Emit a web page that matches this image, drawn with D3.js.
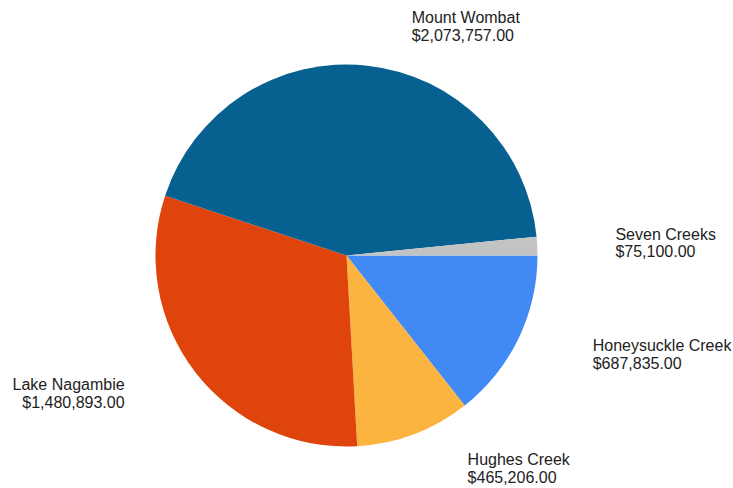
<!DOCTYPE html>
<html><head><meta charset="utf-8">
<script src="https://cdn.jsdelivr.net/npm/d3@7"></script>
<style>html,body{margin:0;padding:0;background:#fff;}svg{display:block;}</style>
</head><body>
<svg id="chart" width="733" height="488"></svg>
<script>
const categories = ["Honeysuckle Creek", "Hughes Creek", "Lake Nagambie", "Mount Wombat", "Seven Creeks"];
const values = [687835, 465206, 1480893, 2073757, 75100];
const colors = ["#4189f4", "#fbb440", "#e0440d", "#066190", "#c3c3c3"];

const W = 733, H = 488;
const cx = 346.5, cy = 255.5, r = 191;
const svg = d3.select("#chart");
const g = svg.append("g").attr("transform", `translate(${cx},${cy})`);

const data = categories.map((c, i) => ({name: c, value: values[i], color: colors[i]}));
const pie = d3.pie().value(d => d.value).sort(null)
  .startAngle(Math.PI / 2).endAngle(Math.PI / 2 + 2 * Math.PI);
const arcs = pie(data);
const arc = d3.arc().innerRadius(0).outerRadius(r);
const labelArc = d3.arc().innerRadius(r * 1.2).outerRadius(r * 1.2);

g.selectAll("path.slice").data(arcs).join("path")
  .attr("class", "slice")
  .attr("d", arc)
  .attr("fill", d => d.data.color);

const fmt = d3.format("$,.2f");
g.selectAll("text.lbl").data(arcs).join("text")
  .attr("class", "lbl")
  .attr("font-family", "'Liberation Sans', Arial, sans-serif")
  .attr("font-size", 16)
  .attr("fill", "#222")
  .each(function(d) {
    const [x, y] = labelArc.centroid(d);
    const right = x >= 0;
    const t = d3.select(this).attr("text-anchor", right ? "start" : "end");
    const lx = x + (right ? 40 : -40);
    t.append("tspan").attr("x", lx).attr("y", y - 4.5).text(d.data.name);
    t.append("tspan").attr("x", lx).attr("y", y + 13).text(fmt(d.data.value));
  });
</script>
</body></html>
